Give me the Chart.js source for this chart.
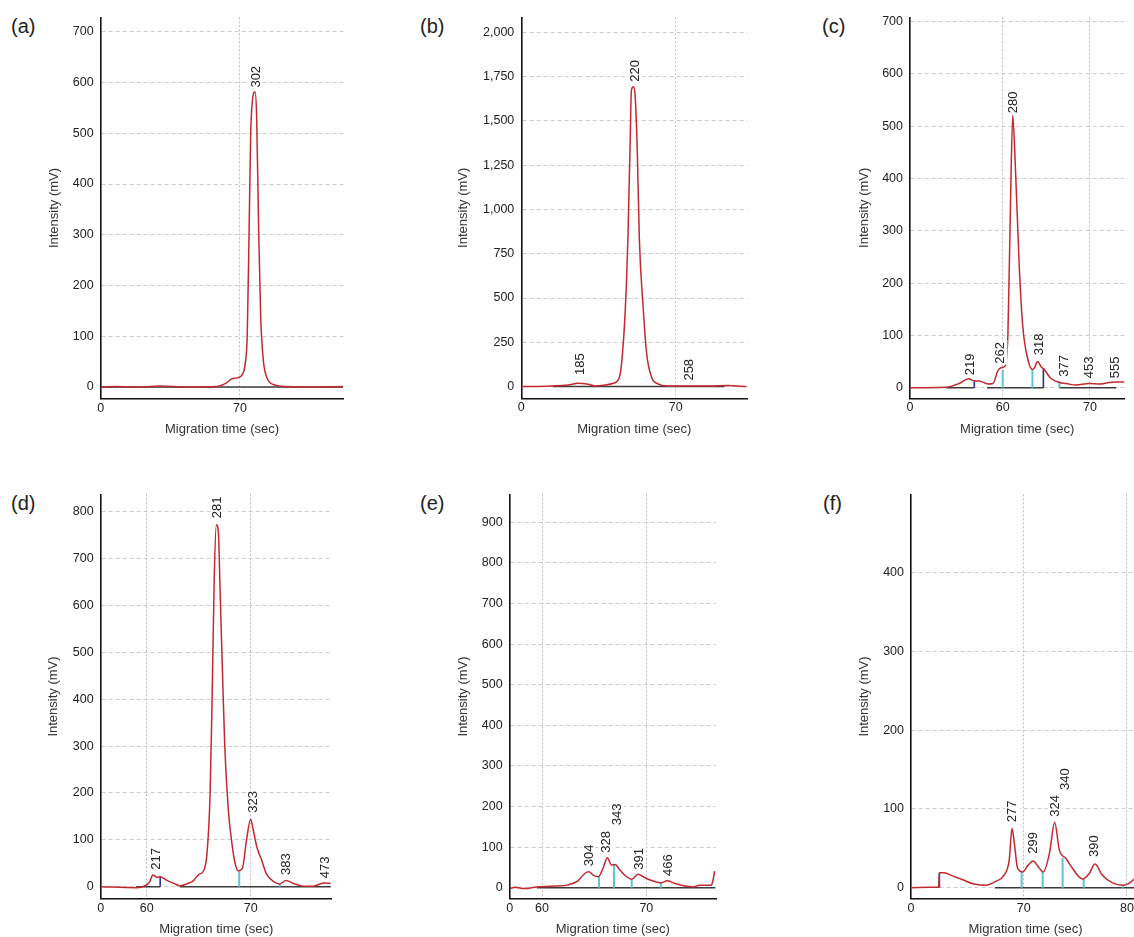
<!DOCTYPE html>
<html>
<head>
<meta charset="utf-8">
<script src="https://cdn.jsdelivr.net/npm/chart.js@4.4.1/dist/chart.umd.min.js"></script>
<style>
  html, body { margin: 0; padding: 0; background: #fff; width: 1134px; height: 937px; overflow: hidden; }
  .panel { position: absolute; }
  .tag { position: absolute; font: 20px "Liberation Sans", Arial, sans-serif; color: #222; line-height: 22px; }
</style>
</head>
<body>
<div class="tag" style="left:11px;top:15px">(a)</div>
<div class="tag" style="left:420px;top:15px">(b)</div>
<div class="tag" style="left:822px;top:15px">(c)</div>
<div class="tag" style="left:11px;top:492px">(d)</div>
<div class="tag" style="left:420px;top:492px">(e)</div>
<div class="tag" style="left:823px;top:492px">(f)</div>
<script>
// ---- data (time in sec, intensity in mV) ----
const aTime = [56.6, 58.1, 60.4, 62.3, 64.9, 67.75, 68.7, 69.2, 69.74, 70.26, 70.5, 70.7, 70.87, 71.03, 71.2, 71.44, 71.6, 71.8, 71.99, 72.24, 72.56, 73.2, 74.5, 76.4, 79.9];
const aSignal = [0, 1, 0, 2, 0, 1, 8, 16, 18, 26, 46, 105, 302, 500, 565, 582, 533, 302, 138, 53, 20, 5, 1, 0, 1];

const bTime = [55.16, 58.0, 59.65, 60.6, 61.6, 62.2, 63.2, 64.0, 64.6, 65.0, 65.26, 65.4, 65.6, 65.74, 65.96, 66.1, 66.3, 66.5, 66.86, 67.2, 67.66, 68.3, 69.26, 71.2, 73.4, 75.0, 76.8];
const bSignal = [0, 4, 9, 19, 13, 4, 9, 19, 56, 282, 583, 835, 1336, 1675, 1693, 1637, 1336, 835, 452, 188, 56, 15, 4, 4, 4, 6, 0];

const cTime = [49.4, 53.5, 55.0, 56.1, 56.75, 57.3, 58.3, 58.9, 59.4, 59.8, 60.2, 60.6, 60.9, 61.15, 61.45, 61.9, 62.3, 62.9, 63.4, 63.6, 64.0, 64.4, 64.8, 65.5, 66.5, 67.25, 68.4, 69.9, 71.1, 72.2, 73.0, 73.9];
const cSignal = [0, 1, 8, 17, 13, 13, 7, 8, 31, 38, 40, 104, 359, 521, 423, 231, 117, 53, 35, 37, 50, 40, 34, 18, 10, 8, 5, 8, 7, 10, 11, 11];

const dTime = [55.6, 59.0, 60.0, 60.3, 60.6, 61.0, 61.3, 61.9, 62.6, 63.2, 63.85, 64.5, 65.0, 65.45, 65.8, 66.1, 66.3, 66.5, 66.7, 66.9, 67.05, 67.3, 67.5, 67.85, 68.2, 68.5, 68.8, 69.2, 69.6, 70.0, 70.25, 70.6, 71.05, 71.5, 72.2, 72.8, 73.4, 74.1, 75.1, 76.0, 76.8, 77.1, 77.7];
const dSignal = [0, -2, 4, 11, 25, 20, 21, 14, 7, 2, 6, 13, 26, 33, 71, 199, 412, 661, 772, 754, 640, 448, 306, 164, 92, 50, 34, 39, 100, 144, 121, 84, 57, 28, 11, 6, 13, 7, 1, 1, 7, 8, 7];

const eTime = [56.97, 57.4, 58.3, 59.5, 61.2, 62.5, 63.45, 64.1, 64.5, 64.9, 65.4, 65.85, 66.26, 66.65, 67.0, 67.45, 68.1, 68.6, 69.2, 69.84, 70.6, 71.4, 72.0, 72.7, 73.7, 74.5, 75.1, 76.2, 76.4, 76.55];
const eSignal = [-2, 1, -2, 2, 4, 7, 17, 35, 39, 31, 27, 48, 74, 56, 57, 44, 27, 21, 33, 25, 17, 12, 17, 11, 4, 2, 6, 6, 19, 41];

const fTime = [59.2, 60.9, 61.77, 61.84, 62.3, 63.1, 64.1, 65.1, 66.35, 67.3, 68.1, 68.6, 68.87, 69.1, 69.4, 69.9, 70.4, 70.9, 71.5, 71.9, 72.5, 73.0, 73.45, 74.1, 74.7, 75.7, 76.35, 76.9, 77.6, 78.6, 79.6, 80.2, 80.7, 81.2];
const fSignal = [0, 0.4, 0.4, 19, 19, 15, 10, 5, 3, 8, 16, 35, 75, 56, 25, 20, 28, 34, 25, 20, 44, 83, 48, 37, 25, 11, 18, 30, 16, 6, 3, 5.5, 11, 16];

// integration baselines [from, to] and peak boundary markers [time, height]
const aBase = [[56.6, 79.9]];
const bBase = [[58.2, 74.7]];
const cBase = [[53.5, 56.75], [58.2, 64.66], [66.5, 73.0]];
const dBase = [[59.0, 61.3], [63.2, 77.7]];
const eBase = [[59.5, 76.6]];
const fBase = [[67.2, 81.3]];

const cCyan = [[60.0, 34], [63.4, 34], [66.5, 12]];
const dCyan = [[68.9, 34], [72.8, 6]];
const eCyan = [[65.46, 27], [66.9, 57], [68.6, 21], [71.4, 12]];
const fCyan = [[69.8, 20], [71.84, 20], [73.77, 38], [75.8, 11], [79.6, 3]];
const cBlue = [[56.75, 13], [64.66, 37]];
const dBlue = [[61.3, 21]];
const fBlue = [[61.84, 19]];

// peak size labels [text, time, intensity at label foot]
const aPeaks = [["302", 71.5, 590]];
const bPeaks = [["185", 60.75, 66], ["220", 66.05, 1721], ["258", 71.25, 34]];
const cPeaks = [["219", 56.2, 24], ["262", 59.73, 46], ["280", 61.22, 525], ["318", 64.12, 62], ["377", 67.06, 21], ["453", 69.93, 18], ["555", 72.9, 18]];
const dPeaks = [["217", 60.9, 36], ["281", 66.8, 786], ["323", 70.25, 158], ["383", 73.4, 25], ["473", 77.1, 18]];
const ePeaks = [["304", 64.5, 53], ["328", 66.1, 86], ["343", 67.2, 154], ["391", 69.3, 44], ["466", 72.1, 29]];
const fPeaks = [["277", 68.9, 83], ["299", 70.9, 43], ["324", 73.0, 90], ["340", 74.0, 124], ["390", 76.8, 39]];

// axis ticks (the first x tick is the broken-axis origin, labelled 0)
const aXTicks = [56.61, 70], aXLabels = ["0", "70"];
const bXTicks = [55.15, 70], bXLabels = ["0", "70"];
const cXTicks = [49.38, 60, 70], cXLabels = ["0", "60", "70"];
const dXTicks = [55.58, 60, 70], dXLabels = ["0", "60", "70"];
const eXTicks = [56.9, 60, 70], eXLabels = ["0", "60", "70"];
const fXTicks = [59.09, 70, 80], fXLabels = ["0", "70", "80"];
const aYTicks = [0, 100, 200, 300, 400, 500, 600, 700];
const bYTicks = [0, 250, 500, 750, 1000, 1250, 1500, 1750, 2000];
const cYTicks = [0, 100, 200, 300, 400, 500, 600, 700];
const dYTicks = [0, 100, 200, 300, 400, 500, 600, 700, 800];
const eYTicks = [0, 100, 200, 300, 400, 500, 600, 700, 800, 900];
const fYTicks = [0, 100, 200, 300, 400];

const FONT = '"Liberation Sans", Arial, sans-serif';

function pts(xs, ys) {
  return xs.map((x, i) => ({ x, y: ys[i] }));
}
function segs(list) {
  const out = [];
  list.forEach(([a, b]) => { out.push({ x: a, y: 0 }, { x: b, y: 0 }, { x: b, y: null }); });
  return out;
}
function vlines(list) {
  const out = [];
  list.forEach(([x, h]) => { out.push({ x, y: 0 }, { x, y: h }, { x, y: null }); });
  return out;
}

// rotated peak labels with white backing
function tagPlugin(tags) {
  return {
    id: 'peakTags',
    afterDatasetsDraw(chart) {
      const { ctx, scales: { x, y } } = chart;
      ctx.save();
      ctx.font = '13px ' + FONT;
      tags.forEach(([txt, tx, ty]) => {
        const px = x.getPixelForValue(tx), py = y.getPixelForValue(ty);
        const w = ctx.measureText(txt).width;
        ctx.save();
        ctx.translate(px, py);
        ctx.rotate(-Math.PI / 2);
        ctx.fillStyle = '#fff';
        ctx.fillRect(-1, -7, w + 3, 14);
        ctx.fillStyle = '#222';
        ctx.textBaseline = 'middle';
        ctx.fillText(txt, 0, 0.5);
        ctx.restore();
      });
      ctx.restore();
    }
  };
}

const panels = [
  { box: [0, 0, 378, 450], yW: 100.7, xH: 51.3, padTop: 17.3, padRight: 34.7, yTitle: 46.2, xTitle: 13.2,
    xr: [56.61, 79.93], yr: [-23, 728.5], t: aTime, s: aSignal, base: aBase, cyan: [], blue: [], peaks: aPeaks,
    xt: aXTicks, xl: aXLabels, yt: aYTicks },
  { box: [378, 0, 378, 450], yW: 143.3, xH: 51.7, padTop: 17.3, padRight: 8.7, yTitle: 77.9, xTitle: 13.2,
    xr: [55.15, 76.88], yr: [-66, 2085], t: bTime, s: bSignal, base: bBase, cyan: [], blue: [], peaks: bPeaks,
    xt: bXTicks, xl: bXLabels, yt: bYTicks },
  { box: [756, 0, 378, 450], yW: 154, xH: 51.7, padTop: 17.3, padRight: 9.7, yTitle: 100.5, xTitle: 13.2,
    xr: [49.38, 73.93], yr: [-20.3, 708.4], t: cTime, s: cSignal, base: cBase, cyan: cCyan, blue: cBlue, peaks: cPeaks,
    xt: cXTicks, xl: cXLabels, yt: cYTicks },
  { box: [0, 460, 378, 477], yW: 100.7, xH: 38.3, padTop: 34.3, padRight: 46.3, yTitle: 45.5, xTitle: 0,
    xr: [55.58, 77.79], yr: [-25.6, 837], t: dTime, s: dSignal, base: dBase, cyan: dCyan, blue: dBlue, peaks: dPeaks,
    xt: dXTicks, xl: dXLabels, yt: dYTicks },
  { box: [378, 460, 378, 477], yW: 131.7, xH: 38.3, padTop: 34.3, padRight: 40, yTitle: 77.2, xTitle: 0,
    xr: [56.9, 76.68], yr: [-27.1, 969], t: eTime, s: eSignal, base: eBase, cyan: eCyan, blue: [], peaks: ePeaks,
    xt: eXTicks, xl: eXLabels, yt: eYTicks },
  { box: [756, 460, 400, 477], yW: 155, xH: 38.3, padTop: 34.3, padRight: 16, yTitle: 100.5, xTitle: 0,
    xr: [59.09, 81.26], yr: [-14, 499.5], t: fTime, s: fSignal, base: fBase, cyan: fCyan, blue: fBlue, peaks: fPeaks,
    xt: fXTicks, xl: fXLabels, yt: fYTicks }
];

panels.forEach(p => {
  const wrap = document.createElement('div');
  wrap.className = 'panel';
  wrap.style.left = p.box[0] + 'px';
  wrap.style.top = p.box[1] + 'px';
  const cv = document.createElement('canvas');
  cv.width = p.box[2];
  cv.height = p.box[3];
  cv.style.width = p.box[2] + 'px';
  cv.style.height = p.box[3] + 'px';
  wrap.appendChild(cv);
  document.body.appendChild(wrap);

  new Chart(cv, {
    type: 'line',
    data: {
      datasets: [
        { data: pts(p.t, p.s), borderColor: '#c3282f', borderWidth: 1.5, pointRadius: 0,
          cubicInterpolationMode: 'monotone', order: 0 },
        { data: vlines(p.cyan), borderColor: '#5cc6d6', borderWidth: 2, pointRadius: 0, order: 1 },
        { data: vlines(p.blue), borderColor: '#2c3098', borderWidth: 1.6, pointRadius: 0, order: 1 },
        { data: segs(p.base), borderColor: '#3c3c3c', borderWidth: 1.5, pointRadius: 0, order: 2 }
      ]
    },
    options: {
      responsive: false,
      animation: false,
      devicePixelRatio: 1,
      layout: { padding: { top: p.padTop, right: p.padRight, left: 0, bottom: 0 } },
      plugins: { legend: { display: false }, tooltip: { enabled: false } },
      scales: {
        x: {
          type: 'linear', min: p.xr[0], max: p.xr[1],
          afterBuildTicks: s => { s.ticks = p.xt.map(v => ({ value: v })); },
          afterFit: s => { s.height = p.xH; },
          ticks: { autoSkip: false, maxRotation: 0, padding: 2, color: '#222', font: { family: FONT, size: 12.5 },
                   callback: (v, i) => p.xl[i] },
          grid: { drawTicks: false, color: c => (c.index === 0 ? 'rgba(0,0,0,0)' : '#bdbdbd'), lineWidth: 1 },
          border: { display: true, color: '#111', width: 1.6, dash: [2, 2] },
          title: { display: true, text: 'Migration time (sec)', color: '#333', font: { family: FONT, size: 13 },
                   padding: { top: 0, bottom: p.xTitle } }
        },
        y: {
          type: 'linear', min: p.yr[0], max: p.yr[1],
          afterBuildTicks: s => { s.ticks = p.yt.map(v => ({ value: v })); },
          afterFit: s => { s.width = p.yW; },
          ticks: { padding: 7, color: '#222', font: { family: FONT, size: 12.5 },
                   callback: v => v.toLocaleString('en-US') },
          grid: { drawTicks: false, color: '#cccccc', lineWidth: 1 },
          border: { display: true, color: '#111', width: 1.6, dash: [4, 3] },
          title: { display: true, text: 'Intensity (mV)', color: '#333', font: { family: FONT, size: 13 },
                   padding: { top: p.yTitle, bottom: 0 } }
        }
      }
    },
    plugins: [tagPlugin(p.peaks)]
  });
});
</script>
</body>
</html>
